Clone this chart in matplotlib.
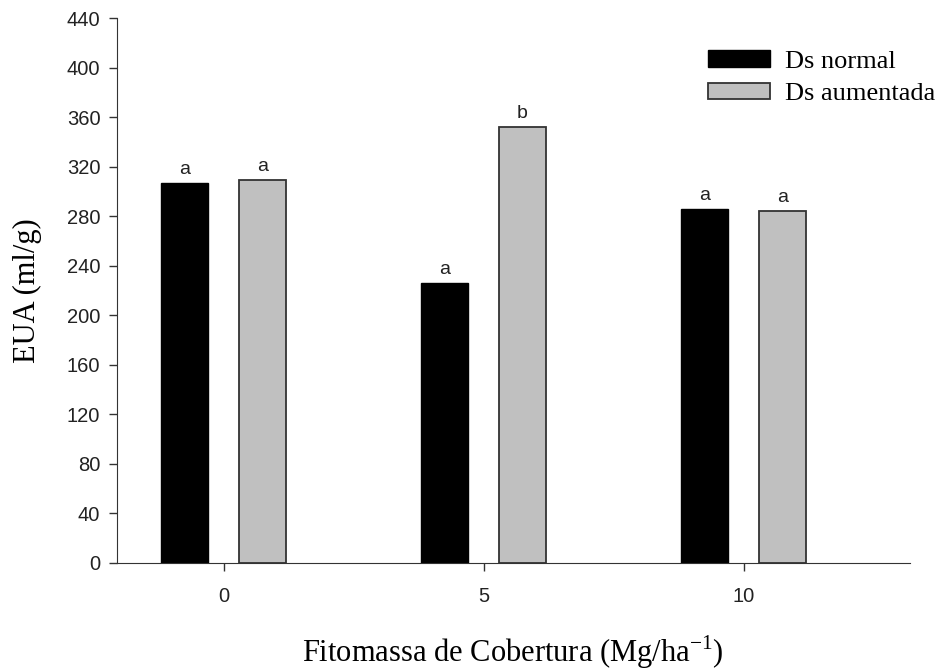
import matplotlib
matplotlib.use("Agg")
import matplotlib.pyplot as plt
import numpy as np

categories = [0, 5, 10]
tick_labels = ["0", "5", "10"]
ds_normal = [307, 226, 286]
ds_aumentada = [309, 352, 284]
letters_normal = ["a", "a", "a"]
letters_aumentada = ["a", "b", "a"]
series_names = ["Ds normal", "Ds aumentada"]

fig = plt.figure(figsize=(9.42, 6.70), dpi=100)
ax = fig.add_axes([117/942, 107/670, (910-117)/942, (563-18)/670])

x = np.array(categories, dtype=float)
offset = 0.75
width = 0.9
b1 = ax.bar(x - offset, ds_normal, width, color="black", edgecolor="black", linewidth=1.0, label=series_names[0])
b2 = ax.bar(x + offset, ds_aumentada, width, color="#c0c0c0", edgecolor="#333333", linewidth=1.3, label=series_names[1])

sans = "Liberation Sans"
serif = "Liberation Serif"

for xi, v, t in zip(x - offset, ds_normal, letters_normal):
    ax.text(xi, v + 4, t, ha="center", va="bottom", fontsize=14, family=sans, color="#222222")
for xi, v, t in zip(x + offset, ds_aumentada, letters_aumentada):
    ax.text(xi, v + 4, t, ha="center", va="bottom", fontsize=14, family=sans, color="#222222")

ax.set_xlim(-2.05, 13.2)
ax.set_ylim(0, 440)
ax.set_yticks(np.arange(0, 441, 40))
ax.set_xticks(categories)
ax.set_xticklabels(tick_labels)
for lab in ax.get_xticklabels() + ax.get_yticklabels():
    lab.set_family(sans)
    lab.set_fontsize(14.5)
    lab.set_color("#222222")
ax.tick_params(direction="out", length=6, width=1.0, color="#333333")
ax.tick_params(axis="x", pad=11)
ax.tick_params(axis="y", pad=6)

ax.spines["top"].set_visible(False)
ax.spines["right"].set_visible(False)
ax.spines["left"].set_color("#333333")
ax.spines["bottom"].set_color("#333333")

ax.set_ylabel("EUA (ml/g)", family=serif, fontsize=22, labelpad=18)
fig.text(513/942, 8/670, r"Fitomassa de Cobertura (Mg/ha$^{\mathregular{-1}}$)",
         family=serif, fontsize=22, ha="center", va="baseline")

leg = fig.legend(handles=[b1, b2], labels=series_names, loc="upper left",
                 bbox_to_anchor=(708/942, 1 - 50/670), frameon=False,
                 prop={"family": serif, "size": 19}, handlelength=2.35, handleheight=0.6,
                 handletextpad=0.57, labelspacing=0.38, borderpad=0, borderaxespad=0)

fig.savefig("out.png", dpi=100)
